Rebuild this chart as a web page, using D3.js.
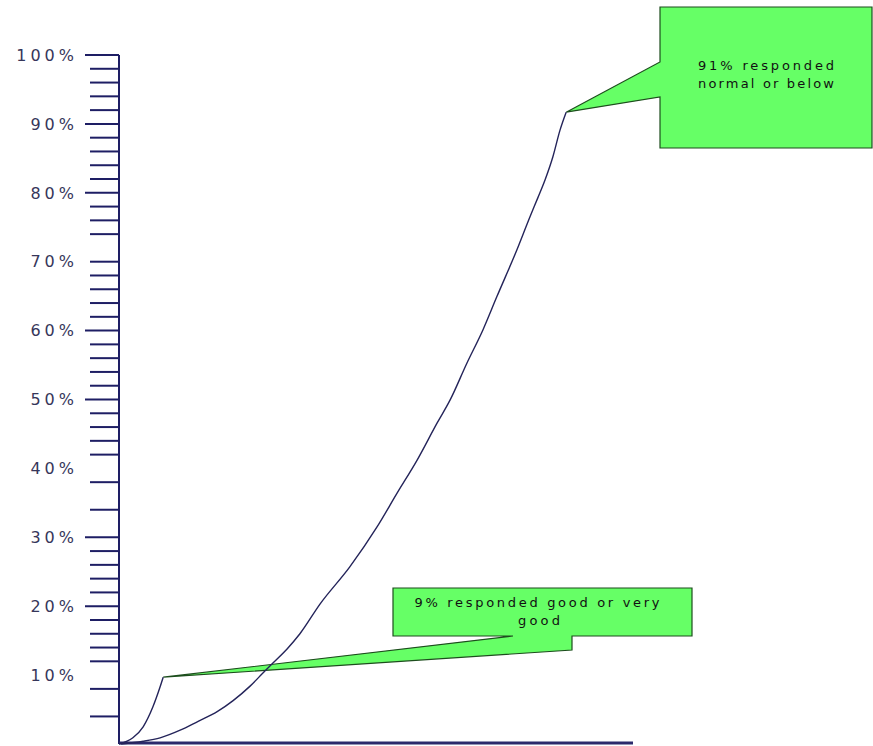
<!DOCTYPE html>
<html><head><meta charset="utf-8">
<script src="https://cdn.jsdelivr.net/npm/d3@7"></script>
<style>body{margin:0;background:#fff}svg{display:block}</style>
</head><body>
<svg id="chart" width="873" height="746"></svg>
<script>
// ---- data ----
const majorTickValues = [20, 30, 50, 60, 80, 90, 100];
const minorTickValues = [4, 8, 12, 14, 16, 18, 22, 24, 26, 28, 34, 38, 42, 44, 46, 48, 52, 54, 56, 58, 62, 64, 66, 68, 70, 74, 76, 78, 82, 84, 86, 88, 92, 94, 96, 98];
const tickLabelValues = [10, 20, 30, 40, 50, 60, 70, 80, 90, 100];

// cumulative share "good or very good"
const goodX = [0, 2.7, 4.7, 6.6, 8.0, 8.6];
const goodY = [0, 0.9, 2.5, 5.4, 8.3, 9.7];

// cumulative share "normal or below"
const normalX = [0.4, 4.7, 8.0, 11.9, 15.4, 19.1, 22.2, 25.5, 28.0, 30.0, 32.7, 35.2, 39.1, 44.9, 50.2, 54.1, 58.0, 61.9, 64.4, 67.7, 70.8, 73.5, 77.4, 80.0, 81.5, 82.9, 84.4, 85.8, 87.0];
const normalY = [0, 0.4, 0.9, 2.0, 3.3, 4.7, 6.3, 8.4, 10.3, 11.8, 13.8, 16.0, 20.3, 25.7, 31.5, 36.4, 41.2, 46.6, 49.9, 55.3, 60.1, 64.9, 71.7, 76.6, 79.3, 81.9, 85.2, 89.1, 91.7];

const calloutNormal = ["91% responded", "normal or below"];
const calloutGood = ["9% responded good or very", "good"];

// ---- drawing ----
const svg = d3.select("#chart");
const x = d3.scaleLinear().domain([0, 100]).range([119, 633]);
const y = d3.scaleLinear().domain([0, 100]).range([744, 55]);

const navy = "#1e1e64";
const green = "#66ff66";
const greenStroke = "#1d4d1d";

// callouts (drawn below the curves)
const tipN = [x(normalX[normalX.length - 1]), y(normalY[normalY.length - 1])];
const tipG = [x(goodX[goodX.length - 1]), y(goodY[goodY.length - 1])];

const c1 = svg.append("g");
c1.append("polygon")
  .attr("points", [[660,7],[872,7],[872,148],[660,148],[660,97],tipN,[660,62]].map(p => p.join(",")).join(" "))
  .attr("fill", green).attr("stroke", greenStroke).attr("stroke-width", 1.2);
c1.selectAll("text").data(calloutNormal).join("text")
  .attr("x", 766).attr("y", (d, i) => 70 + i * 18)
  .attr("text-anchor", "middle")
  .attr("font-family", "DejaVu Sans, sans-serif").attr("font-size", 13)
  .attr("textLength", 136).attr("lengthAdjust", "spacing")
  .attr("fill", "#111").text(d => d);

const c2 = svg.append("g");
c2.append("polygon")
  .attr("points", [[393,588],[692,588],[692,636],[572,636],[572,650],tipG,[513,636],[393,636]].map(p => p.join(",")).join(" "))
  .attr("fill", green).attr("stroke", greenStroke).attr("stroke-width", 1.2);
c2.selectAll("text").data(calloutGood).join("text")
  .attr("x", (d, i) => i === 0 ? 537 : 539).attr("y", (d, i) => 607 + i * 18)
  .attr("text-anchor", "middle")
  .attr("font-family", "DejaVu Sans, sans-serif").attr("font-size", 13)
  .attr("textLength", (d, i) => i === 0 ? 245 : 42).attr("lengthAdjust", "spacing")
  .attr("fill", "#111").text(d => d);

// y axis ticks
const axisG = svg.append("g");
axisG.selectAll("line.major").data(majorTickValues).join("line")
  .attr("class", "major")
  .attr("x1", 85).attr("x2", 119).attr("y1", d => y(d)).attr("y2", d => y(d))
  .attr("stroke", navy).attr("stroke-width", 2);
axisG.selectAll("line.minor").data(minorTickValues).join("line")
  .attr("class", "minor")
  .attr("x1", 90).attr("x2", 119).attr("y1", d => y(d)).attr("y2", d => y(d))
  .attr("stroke", navy).attr("stroke-width", 2);
axisG.append("line").attr("x1", 119).attr("x2", 119).attr("y1", y(100)).attr("y2", y(0))
  .attr("stroke", navy).attr("stroke-width", 2);
axisG.append("line").attr("x1", x(0)).attr("x2", x(100)).attr("y1", 743).attr("y2", 743)
  .attr("stroke", "#2c2a6c").attr("stroke-width", 3);

axisG.selectAll("text").data(tickLabelValues).join("text")
  .attr("x", 78).attr("y", d => y(d)).attr("dy", "0.36em")
  .attr("text-anchor", "end")
  .attr("font-family", "DejaVu Sans, sans-serif").attr("font-size", 16)
  .attr("letter-spacing", 4)
  .attr("fill", "#36365a").text(d => d + "%");

// curves
const line = d3.line().x(d => x(d[0])).y(d => y(d[1])).curve(d3.curveMonotoneX);
svg.append("path").datum(normalX.map((v, i) => [v, normalY[i]]))
  .attr("d", line).attr("fill", "none").attr("stroke", "#24245a").attr("stroke-width", 1.4);
svg.append("path").datum(goodX.map((v, i) => [v, goodY[i]]))
  .attr("d", line).attr("fill", "none").attr("stroke", "#24245a").attr("stroke-width", 1.4);
</script>
</body></html>
